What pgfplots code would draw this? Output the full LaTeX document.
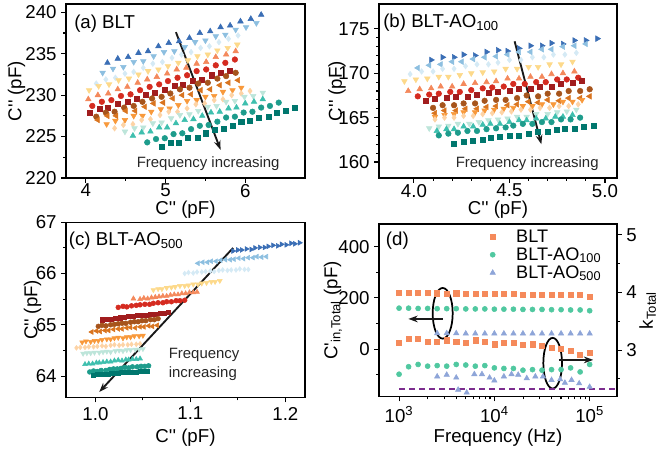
\documentclass[border=0pt]{standalone}
\usepackage{fontspec}
\setmainfont{Liberation Sans}
\usepackage{pgfplots}
\pgfplotsset{compat=1.18}
\usetikzlibrary{arrows.meta}
\definecolor{cBlue}{HTML}{3A6EB5}
\definecolor{cLBlue}{HTML}{8DBFE0}
\definecolor{cPBlue}{HTML}{D5EAF5}
\definecolor{cYellow}{HTML}{FDD98A}
\definecolor{cSalmon}{HTML}{F4895C}
\definecolor{cRed}{HTML}{D52B20}
\definecolor{cDRed}{HTML}{A11D1E}
\definecolor{cBrown}{HTML}{A6541C}
\definecolor{cOBrown}{HTML}{D9741F}
\definecolor{cOrange}{HTML}{F8993B}
\definecolor{cPeach}{HTML}{FDD3A5}
\definecolor{cPTeal}{HTML}{BDE5DA}
\definecolor{cTeal}{HTML}{3EBFAE}
\definecolor{cMTeal}{HTML}{1D9C8C}
\definecolor{cDTeal}{HTML}{00776E}
\definecolor{dOr}{HTML}{F58A5B}
\definecolor{dGr}{HTML}{50C8A0}
\definecolor{dBl}{HTML}{8EA5D8}
\definecolor{dPu}{HTML}{7B2D8E}
\newcommand{\fs}{\fontsize{14}{16.5}\selectfont}
\newcommand{\fsm}{\fontsize{11.2}{13}\selectfont}
\pgfplotsset{
  every axis/.append style={scale only axis, font=\fs, tick align=outside,
    xtick pos=bottom, ytick pos=left, axis line style={line width=1.1pt},
    major tick length=3.5pt, minor tick length=2pt,
    every tick/.style={black, line width=0.8pt},
    /pgf/number format/assume math mode=true,
    every axis plot/.append style={mark size=2.1pt}},
  rU/.style={only marks, mark=triangle*, mark options={scale=1.15}},
  rD/.style={only marks, mark=triangle*, mark options={rotate=180, scale=1.15}},
  rL/.style={only marks, mark=triangle*, mark options={rotate=90, scale=1.15}},
  rR/.style={only marks, mark=triangle*, mark options={rotate=-90, scale=1.15}},
  rO/.style={only marks, mark=*},
  rS/.style={only marks, mark=square*, mark options={scale=0.9}},
  rM/.style={only marks, mark=diamond*},
  ylab/.style={every axis y label/.style={at={([xshift=-#1]rel axis cs:0,0.5)}, rotate=90, anchor=center}},
  xlab/.style={every axis x label/.style={at={([yshift=-#1]rel axis cs:0.5,0)}, anchor=center}},
}
\tikzset{farrow/.style={line width=1.4pt, color=black!90, -{Stealth[length=7pt,width=5pt]}}}
\begin{document}
\begin{tikzpicture}
\useasboundingbox (0,0) rectangle (492.75pt,-340.5pt);
% ---------------- (a)
\begin{axis}[at={(49.5pt,-3pt)}, anchor=north west, width=179.25pt, height=130.5pt,
  xmin=3.75, xmax=6.75, ymin=220, ymax=241,
  xtick={4,5,6}, ytick={220,225,230,235,240}, minor tick num=1,
  xticklabel style={yshift=2.5pt},
  ylab=37pt, xlab=23.5pt,
  xlabel={C\textquotesingle\textquotesingle{} (pF)}, ylabel={C\textquotesingle\textquotesingle{} (pF)}]
\addplot[rU, cBlue] coordinates {(4.27,233.9)(4.40,234.4)(4.53,234.6)(4.66,235.1)(4.78,235.3)(4.91,235.9)(5.04,236.3)(5.17,236.5)(5.30,236.9)(5.43,237.5)(5.56,237.7)(5.69,238.2)(5.81,238.4)(5.94,238.9)(6.07,239.2)(6.20,239.7)};
\addplot[rD, cLBlue] coordinates {(4.21,232.7)(4.34,233.2)(4.47,233.4)(4.60,234.0)(4.72,234.1)(4.85,234.7)(4.98,235.2)(5.11,235.3)(5.24,235.8)(5.37,236.4)(5.50,236.6)(5.63,237.1)(5.75,237.3)(5.88,237.9)(6.01,238.2)(6.14,238.7)};
\addplot[rM, cPBlue] coordinates {(4.13,231.4)(4.25,231.9)(4.37,232.1)(4.49,232.6)(4.60,232.8)(4.72,233.3)(4.84,233.8)(4.96,234.0)(5.08,234.5)(5.20,234.9)(5.32,235.2)(5.44,235.7)(5.55,235.9)(5.67,236.4)(5.79,236.8)(5.91,237.2)};
\addplot[rD, cYellow] coordinates {(4.04,230.6)(4.16,231.1)(4.29,231.3)(4.41,231.8)(4.54,232.0)(4.66,232.5)(4.78,232.9)(4.91,233.1)(5.03,233.5)(5.16,233.9)(5.28,234.2)(5.40,234.7)(5.53,234.9)(5.65,235.4)(5.78,235.7)(5.90,236.1)};
\addplot[rU, cSalmon] coordinates {(4.03,229.5)(4.15,230.0)(4.28,230.2)(4.40,230.7)(4.52,231.0)(4.65,231.5)(4.77,231.9)(4.89,232.2)(5.02,232.6)(5.14,233.1)(5.26,233.3)(5.39,233.8)(5.51,234.0)(5.63,234.6)(5.76,234.9)(5.88,235.3)};
\addplot[rO, cRed] coordinates {(4.08,228.7)(4.20,229.2)(4.32,229.4)(4.44,229.9)(4.56,230.1)(4.68,230.6)(4.80,231.0)(4.92,231.3)(5.03,231.7)(5.15,232.1)(5.27,232.4)(5.39,232.9)(5.51,233.1)(5.63,233.6)(5.75,233.9)(5.87,234.3)};
\addplot[rS, cDRed] coordinates {(4.05,227.9)(4.17,228.4)(4.28,228.5)(4.40,229.0)(4.52,229.2)(4.64,229.6)(4.75,230.0)(4.87,230.3)(4.99,230.6)(5.11,231.1)(5.22,231.3)(5.34,231.7)(5.46,231.9)(5.58,232.4)(5.69,232.7)(5.81,233.0)};
\addplot[rO, cBrown] coordinates {(4.13,227.4)(4.25,227.9)(4.36,228.0)(4.48,228.5)(4.60,228.7)(4.71,229.2)(4.83,229.6)(4.95,229.8)(5.06,230.2)(5.18,230.7)(5.30,230.9)(5.41,231.4)(5.53,231.5)(5.65,232.0)(5.76,232.3)(5.88,232.7)};
\addplot[rL, cOBrown] coordinates {(4.15,227.0)(4.27,227.5)(4.38,227.5)(4.50,228.1)(4.62,228.1)(4.74,228.6)(4.85,229.0)(4.97,229.1)(5.09,229.6)(5.21,230.0)(5.32,230.1)(5.44,230.6)(5.56,230.7)(5.68,231.2)(5.79,231.5)(5.91,231.8)};
\addplot[rD, cOrange] coordinates {(4.26,226.5)(4.37,226.9)(4.49,227.0)(4.60,227.5)(4.71,227.5)(4.82,228.0)(4.94,228.3)(5.05,228.4)(5.16,228.8)(5.27,229.3)(5.39,229.4)(5.50,229.8)(5.61,229.9)(5.72,230.4)(5.84,230.6)(5.95,230.9)};
\addplot[rM, cPeach] coordinates {(4.36,226.0)(4.47,226.4)(4.59,226.5)(4.70,227.0)(4.81,227.1)(4.93,227.6)(5.04,228.0)(5.15,228.0)(5.27,228.4)(5.38,228.9)(5.49,229.0)(5.61,229.4)(5.72,229.5)(5.83,230.0)(5.95,230.2)(6.06,230.5)};
\addplot[rD, cPTeal] coordinates {(4.49,225.6)(4.61,226.0)(4.72,226.1)(4.84,226.6)(4.95,226.7)(5.07,227.2)(5.18,227.6)(5.30,227.7)(5.41,228.1)(5.53,228.6)(5.64,228.7)(5.76,229.2)(5.87,229.3)(5.99,229.8)(6.10,229.9)(6.22,230.3)};
\addplot[rU, cTeal] coordinates {(4.59,225.1)(4.70,225.5)(4.81,225.6)(4.92,226.1)(5.02,226.1)(5.13,226.6)(5.24,227.0)(5.35,227.1)(5.46,227.5)(5.57,227.9)(5.68,228.0)(5.79,228.4)(5.89,228.5)(6.00,229.0)(6.11,229.2)(6.22,229.5)};
\addplot[rO, cMTeal] coordinates {(4.77,224.3)(4.88,224.7)(4.99,224.8)(5.10,225.3)(5.21,225.4)(5.32,225.9)(5.43,226.3)(5.54,226.4)(5.65,226.8)(5.76,227.3)(5.87,227.4)(5.98,227.9)(6.09,228.0)(6.20,228.5)(6.31,228.7)(6.42,229.1)};
\addplot[rS, cDTeal] coordinates {(4.95,223.8)(5.06,224.2)(5.17,224.3)(5.28,224.8)(5.40,224.9)(5.51,225.4)(5.62,225.8)(5.73,225.9)(5.84,226.3)(5.95,226.8)(6.06,226.9)(6.17,227.3)(6.29,227.4)(6.40,227.9)(6.51,228.1)(6.62,228.5)};
\draw[farrow] (axis cs:5.13,237.6) -- (axis cs:5.69,223.4);
\node[font=\fsm, text=black!85] at (axis cs:5.535,221.7) {Frequency increasing};
\node[anchor=north west, inner sep=0pt] at ([xshift=6pt,yshift=-8pt]rel axis cs:0,1) {(a) BLT};
\end{axis}
% ---------------- (b)
\begin{axis}[at={(284.25pt,-3pt)}, anchor=north west, width=178.5pt, height=130.5pt,
  xmin=3.817, xmax=5.063, ymin=158.2, ymax=177.8,
  xtick={4,4.5,5}, ytick={160,165,170,175}, minor x tick num=4, minor y tick num=4,
  xticklabel style={yshift=2.5pt, /pgf/number format/.cd, fixed, fixed zerofill, precision=1},
  ylab=31.5pt, xlab=23.5pt,
  xlabel={C\textquotesingle\textquotesingle{} (pF)}, ylabel={C\textquotesingle\textquotesingle{} (pF)}]
\addplot[rR, cBlue] coordinates {(4.09,171.5)(4.15,171.8)(4.21,171.8)(4.26,172.1)(4.32,172.0)(4.38,172.4)(4.44,172.6)(4.49,172.5)(4.55,172.8)(4.61,173.1)(4.67,173.1)(4.72,173.4)(4.78,173.3)(4.84,173.7)(4.90,173.7)(4.96,173.9)};
\addplot[rL, cLBlue] coordinates {(4.02,170.6)(4.08,170.9)(4.14,171.0)(4.20,171.3)(4.25,171.3)(4.31,171.6)(4.37,171.8)(4.43,171.9)(4.49,172.1)(4.55,172.4)(4.61,172.4)(4.67,172.7)(4.72,172.7)(4.78,173.0)(4.84,173.1)(4.90,173.3)};
\addplot[rM, cPBlue] coordinates {(3.98,169.9)(4.04,170.2)(4.10,170.2)(4.15,170.5)(4.21,170.5)(4.27,170.8)(4.33,171.0)(4.39,171.0)(4.44,171.2)(4.50,171.5)(4.56,171.5)(4.62,171.8)(4.68,171.8)(4.73,172.1)(4.79,172.1)(4.85,172.3)};
\addplot[rD, cYellow] coordinates {(3.95,169.1)(4.01,169.3)(4.07,169.4)(4.13,169.6)(4.18,169.6)(4.24,169.8)(4.30,170.0)(4.36,170.1)(4.42,170.2)(4.48,170.5)(4.54,170.5)(4.60,170.7)(4.65,170.7)(4.71,171.0)(4.77,171.0)(4.83,171.3)};
\addplot[rU, cSalmon] coordinates {(3.97,168.0)(4.03,168.2)(4.09,168.3)(4.14,168.5)(4.20,168.5)(4.26,168.8)(4.32,168.9)(4.38,169.0)(4.43,169.1)(4.49,169.4)(4.55,169.4)(4.61,169.6)(4.67,169.6)(4.72,169.9)(4.78,170.0)(4.84,170.2)};
\addplot[rO, cRed] coordinates {(4.02,167.4)(4.08,167.6)(4.13,167.7)(4.19,167.9)(4.24,167.9)(4.30,168.1)(4.36,168.3)(4.41,168.4)(4.47,168.5)(4.52,168.8)(4.58,168.8)(4.64,169.0)(4.69,169.0)(4.75,169.3)(4.80,169.3)(4.86,169.5)};
\addplot[rS, cDRed] coordinates {(4.06,166.9)(4.11,167.1)(4.17,167.2)(4.22,167.4)(4.28,167.4)(4.33,167.6)(4.39,167.8)(4.44,167.9)(4.50,168.0)(4.55,168.3)(4.61,168.3)(4.66,168.5)(4.72,168.5)(4.77,168.8)(4.83,168.9)(4.88,169.2)};
\addplot[rO, cBrown] coordinates {(4.10,166.1)(4.15,166.4)(4.21,166.4)(4.26,166.6)(4.32,166.6)(4.37,166.9)(4.43,167.0)(4.48,167.0)(4.54,167.2)(4.59,167.5)(4.65,167.4)(4.70,167.7)(4.76,167.7)(4.81,168.0)(4.87,168.0)(4.92,168.2)};
\addplot[rL, cOBrown] coordinates {(4.11,165.5)(4.16,165.8)(4.22,165.8)(4.27,166.0)(4.33,166.0)(4.38,166.2)(4.43,166.3)(4.49,166.4)(4.54,166.5)(4.60,166.8)(4.65,166.7)(4.70,167.0)(4.76,166.9)(4.81,167.2)(4.87,167.2)(4.92,167.4)};
\addplot[rD, cOrange] coordinates {(4.11,165.1)(4.16,165.3)(4.21,165.4)(4.26,165.6)(4.32,165.6)(4.37,165.8)(4.42,165.9)(4.47,166.0)(4.52,166.1)(4.57,166.3)(4.62,166.3)(4.67,166.5)(4.73,166.5)(4.78,166.8)(4.83,166.8)(4.88,167.0)};
\addplot[rM, cPeach] coordinates {(4.11,164.8)(4.16,165.0)(4.21,165.0)(4.26,165.2)(4.31,165.2)(4.36,165.4)(4.41,165.5)(4.46,165.6)(4.51,165.7)(4.56,165.9)(4.61,165.9)(4.66,166.1)(4.71,166.1)(4.76,166.3)(4.81,166.3)(4.86,166.5)};
\addplot[rD, cPTeal] coordinates {(4.08,163.8)(4.13,164.0)(4.18,164.1)(4.23,164.3)(4.29,164.3)(4.34,164.5)(4.39,164.7)(4.44,164.8)(4.49,164.9)(4.54,165.1)(4.59,165.1)(4.64,165.4)(4.70,165.4)(4.75,165.6)(4.80,165.7)(4.85,165.9)};
\addplot[rU, cTeal] coordinates {(4.12,163.5)(4.17,163.7)(4.21,163.7)(4.26,164.0)(4.31,164.0)(4.36,164.2)(4.40,164.3)(4.45,164.3)(4.50,164.5)(4.55,164.7)(4.59,164.7)(4.64,164.9)(4.69,164.9)(4.74,165.1)(4.78,165.1)(4.83,165.3)};
\addplot[rO, cMTeal] coordinates {(4.13,163.0)(4.18,163.2)(4.23,163.3)(4.28,163.5)(4.33,163.5)(4.38,163.7)(4.43,163.8)(4.48,163.9)(4.52,164.1)(4.57,164.3)(4.62,164.3)(4.67,164.5)(4.72,164.5)(4.77,164.8)(4.82,164.8)(4.87,165.0)};
\addplot[rS, cDTeal] coordinates {(4.21,162.1)(4.26,162.3)(4.31,162.4)(4.36,162.5)(4.40,162.7)(4.45,162.8)(4.50,163.0)(4.55,163.0)(4.60,163.2)(4.65,163.4)(4.70,163.4)(4.75,163.6)(4.79,163.7)(4.84,163.8)(4.89,164.0)(4.94,164.1)};
\draw[farrow] (axis cs:4.527,173.6) -- (axis cs:4.667,162.0);
\node[font=\fsm, text=black!85] at (axis cs:4.593,159.86) {Frequency increasing};
\node[anchor=north west, inner sep=0pt] at ([xshift=3pt,yshift=-7pt]rel axis cs:0,1) {(b) BLT-AO\textsubscript{100}};
\end{axis}
% ---------------- (c)
\begin{axis}[at={(49.5pt,-166.7pt)}, anchor=north west, width=179.25pt, height=131.5pt,
  xmin=0.969, xmax=1.2207, ymin=63.58, ymax=67,
  xtick={1.0,1.1,1.2}, minor xtick={1.05,1.15}, ytick={64,65,66,67}, minor ytick={64.5,65.5,66.5},
  xticklabel style={/pgf/number format/.cd, fixed, fixed zerofill, precision=1},
  every axis plot/.append style={mark size=1.8pt},
  ylab=25pt, xlab=30pt,
  xlabel={C\textquotesingle\textquotesingle{} (pF)}, ylabel={C\textquotesingle\textquotesingle{} (pF)}]
\addplot[rR, cBlue] coordinates {(1.145,66.44)(1.150,66.46)(1.154,66.46)(1.159,66.48)(1.164,66.47)(1.168,66.50)(1.173,66.51)(1.178,66.51)(1.182,66.53)(1.187,66.55)(1.192,66.54)(1.196,66.57)(1.201,66.56)(1.206,66.59)(1.210,66.58)(1.215,66.60)};
\addplot[rL, cLBlue] coordinates {(1.108,66.20)(1.113,66.22)(1.118,66.22)(1.122,66.24)(1.127,66.24)(1.132,66.26)(1.137,66.27)(1.142,66.27)(1.146,66.28)(1.151,66.30)(1.156,66.29)(1.161,66.31)(1.166,66.31)(1.170,66.33)(1.175,66.32)(1.180,66.33)};
\addplot[rM, cPBlue] coordinates {(1.094,66.00)(1.098,66.02)(1.103,66.01)(1.107,66.03)(1.112,66.03)(1.116,66.04)(1.121,66.05)(1.125,66.04)(1.130,66.06)(1.134,66.07)(1.139,66.06)(1.143,66.07)(1.148,66.07)(1.152,66.09)(1.157,66.08)(1.161,66.08)};
\addplot[rD, cYellow] coordinates {(1.061,65.68)(1.066,65.70)(1.070,65.70)(1.075,65.72)(1.080,65.73)(1.084,65.74)(1.089,65.76)(1.094,65.76)(1.098,65.77)(1.103,65.79)(1.108,65.79)(1.112,65.81)(1.117,65.82)(1.122,65.84)(1.126,65.84)(1.131,65.86)};
\addplot[rU, cSalmon] coordinates {(1.040,65.51)(1.047,65.50)(1.051,65.52)(1.055,65.51)(1.059,65.53)(1.063,65.54)(1.067,65.55)(1.071,65.56)(1.075,65.56)(1.079,65.58)(1.083,65.59)(1.087,65.59)(1.091,65.61)(1.095,65.61)(1.099,65.63)(1.103,65.63)(1.107,65.64)};
\addplot[rO, cRed] coordinates {(1.024,65.34)(1.029,65.36)(1.033,65.35)(1.038,65.37)(1.043,65.38)(1.047,65.39)(1.052,65.40)(1.057,65.40)(1.061,65.42)(1.066,65.43)(1.071,65.43)(1.075,65.45)(1.080,65.45)(1.085,65.47)(1.089,65.47)(1.094,65.48)};
\addplot[rS, cDRed] coordinates {(1.007,65.10)(1.012,65.11)(1.016,65.11)(1.021,65.13)(1.026,65.14)(1.030,65.15)(1.035,65.16)(1.040,65.16)(1.044,65.18)(1.049,65.19)(1.054,65.19)(1.058,65.21)(1.063,65.21)(1.068,65.23)(1.072,65.23)(1.077,65.24)};
\addplot[rO, cBrown] coordinates {(1.003,64.97)(1.007,64.99)(1.011,64.98)(1.016,65.00)(1.020,65.01)(1.024,65.02)(1.028,65.03)(1.032,65.03)(1.037,65.05)(1.041,65.06)(1.045,65.06)(1.049,65.08)(1.053,65.08)(1.058,65.10)(1.062,65.10)(1.066,65.12)};
\addplot[rL, cOBrown] coordinates {(0.996,64.86)(1.001,64.88)(1.005,64.87)(1.010,64.89)(1.014,64.89)(1.019,64.91)(1.024,64.92)(1.028,64.92)(1.033,64.94)(1.037,64.95)(1.042,64.94)(1.047,64.96)(1.051,64.96)(1.056,64.98)(1.060,64.97)(1.065,64.99)};
\addplot[rD, cOrange] coordinates {(0.986,64.66)(0.990,64.68)(0.995,64.67)(0.999,64.69)(1.003,64.69)(1.007,64.71)(1.012,64.72)(1.016,64.72)(1.020,64.74)(1.024,64.75)(1.029,64.74)(1.033,64.76)(1.037,64.76)(1.041,64.78)(1.046,64.78)(1.050,64.79)};
\addplot[rM, cPeach] coordinates {(0.980,64.55)(0.984,64.56)(0.989,64.56)(0.993,64.57)(0.998,64.57)(1.002,64.58)(1.007,64.59)(1.011,64.58)(1.016,64.60)(1.020,64.61)(1.025,64.60)(1.029,64.61)(1.034,64.61)(1.038,64.62)(1.043,64.62)(1.047,64.63)};
\addplot[rD, cPTeal] coordinates {(0.987,64.44)(0.991,64.45)(0.995,64.45)(0.999,64.46)(1.004,64.46)(1.008,64.47)(1.012,64.48)(1.016,64.47)(1.021,64.49)(1.025,64.50)(1.029,64.49)(1.033,64.51)(1.037,64.51)(1.042,64.52)(1.046,64.52)(1.050,64.53)};
\addplot[rU, cTeal] coordinates {(0.989,64.23)(0.993,64.24)(0.997,64.24)(1.001,64.26)(1.004,64.26)(1.008,64.27)(1.012,64.28)(1.016,64.28)(1.020,64.30)(1.024,64.31)(1.028,64.30)(1.032,64.32)(1.035,64.32)(1.039,64.33)(1.043,64.33)(1.047,64.34)};
\addplot[rO, cMTeal] coordinates {(0.994,64.08)(0.998,64.10)(1.002,64.09)(1.006,64.11)(1.011,64.11)(1.015,64.13)(1.019,64.14)(1.023,64.14)(1.027,64.15)(1.031,64.17)(1.035,64.16)(1.039,64.18)(1.044,64.18)(1.048,64.19)(1.052,64.19)(1.056,64.20)};
\addplot[rS, cDTeal] coordinates {(0.998,64.02)(1.002,64.03)(1.005,64.03)(1.009,64.04)(1.013,64.04)(1.017,64.05)(1.020,64.06)(1.024,64.05)(1.028,64.07)(1.032,64.08)(1.035,64.07)(1.039,64.08)(1.043,64.08)(1.047,64.09)(1.050,64.09)(1.054,64.10)};
\draw[farrow] (axis cs:1.145,66.50) -- (axis cs:1.004,63.69);
\node[font=\fontsize{11.2}{14.3}\selectfont, text=black!85, align=left, anchor=west] at (axis cs:1.0723,64.22) {Frequency\\increasing};
\node[anchor=north west, inner sep=0pt] at ([xshift=2pt,yshift=-7pt]rel axis cs:0,1) {(c) BLT-AO\textsubscript{500}};
\end{axis}
% ---------------- (d) left
\begin{axis}[at={(284.25pt,-168pt)}, anchor=north west, width=178.5pt, height=129.5pt,
  xmode=log, xmin=616, xmax=193600, ymin=-185, ymax=488,
  xtick={1000,10000,100000}, xticklabels={10\textsuperscript{3},10\textsuperscript{4},10\textsuperscript{5}},
  ytick={0,200,400}, minor ytick={-100,100,300},
  xlab=31pt,
  every axis y label/.style={at={([xshift=-34.5pt]rel axis cs:0,0.5)}, rotate=90, anchor=center},
  xlabel={Frequency (Hz)}, ylabel={C\textquotesingle\textsubscript{in,Total} (pF)},
  legend image code/.code={\draw[mark repeat=2,mark phase=2,#1] plot coordinates {(0cm,0cm)(0.3cm,0cm)(0.6cm,0cm)}; \path[draw=none, fill=none] (0cm,0cm) (0.85cm,0cm);},
  legend style={at={(0.412,1.0)}, anchor=north west, draw=none, fill=none, font=\fontsize{13.6}{15}\selectfont, row sep=-1.5pt},
  legend cell align=left]
\addplot[only marks, mark=square*, mark size=1.9pt, dOr] coordinates {(1000,220)(1259,221)(1585,220)(1995,219)(2512,218)(3162,217)(3981,218)(5012,217)(6310,216)(7943,216)(10000,215)(12589,215)(15849,215)(19953,214)(25119,214)(31623,213)(39811,213)(50119,212)(63096,212)(79433,211)(100000,205)};
\addlegendentry{BLT}
\addplot[only marks, mark=*, mark size=1.9pt, dGr] coordinates {(1000,160)(1259,160)(1585,159)(1995,159)(2512,158)(3162,158)(3981,158)(5012,157)(6310,157)(7943,157)(10000,156)(12589,156)(15849,156)(19953,155)(25119,155)(31623,155)(39811,154)(50119,154)(63096,153)(79433,153)(100000,150)};
\addlegendentry{BLT-AO\textsubscript{100}}
\addplot[only marks, mark=triangle*, mark size=2.3pt, dBl] coordinates {(2512,62)(3162,62)(3981,62)(5012,61)(6310,61)(7943,61)(10000,61)(12589,61)(15849,61)(19953,61)(25119,61)(31623,61)(39811,61)(50119,61)(63096,61)(79433,61)(100000,61)};
\addlegendentry{BLT-AO\textsubscript{500}}
\draw[line width=1.3pt] (axis cs:2870,140) ellipse [x radius=7.5pt, y radius=19pt];
\draw[farrow] (axis cs:2870,118) -- (axis cs:1253,118);
\draw[line width=1.3pt] (axis cs:40900,-54.5) ellipse [x radius=7pt, y radius=19pt];
\draw[farrow] (axis cs:47600,-41.6) -- (axis cs:109000,-41.6);
\node[anchor=north west, inner sep=0pt] at ([xshift=5pt,yshift=-6pt]rel axis cs:0,1) {(d)};
\end{axis}
% ---------------- (d) right
\begin{axis}[at={(284.25pt,-168pt)}, anchor=north west, width=178.5pt, height=129.5pt,
  xmode=log, xmin=616, xmax=193600, ymin=2.19, ymax=5.19,
  axis x line=none, axis y line*=right, ytick pos=right,
  ytick={3,4,5}, minor ytick={2.5,3.5,4.5},
  every axis y label/.style={at={([xshift=23pt]rel axis cs:1,0.5)}, rotate=90, anchor=center},
  ylabel={k\textsubscript{Total}}]
\addplot[only marks, mark=square*, mark size=1.9pt, dOr] coordinates {(1000,3.13)(1259,3.19)(1585,3.19)(1995,3.15)(2512,3.15)(3162,3.17)(3981,3.15)(5012,3.13)(6310,3.17)(7943,3.15)(10000,3.10)(12589,3.13)(15849,3.12)(19953,3.09)(25119,3.10)(31623,3.07)(39811,3.04)(50119,3.03)(63096,2.99)(79433,2.91)(100000,2.96)};
\addplot[only marks, mark=*, mark size=1.9pt, dGr] coordinates {(1000,2.58)(1259,2.71)(1585,2.75)(1995,2.72)(2512,2.73)(3162,2.72)(3981,2.75)(5012,2.74)(6310,2.72)(7943,2.73)(10000,2.69)(12589,2.68)(15849,2.68)(19953,2.65)(25119,2.66)(31623,2.65)(39811,2.66)(50119,2.66)(63096,2.69)(79433,2.62)(100000,2.75)};
\addplot[only marks, mark=triangle*, mark size=2.3pt, dBl] coordinates {(2512,2.54)(3162,2.57)(3981,2.52)(4169,2.31)(5129,2.26)(6166,2.58)(7413,2.58)(8913,2.52)(10000,2.47)(12589,2.54)(15136,2.58)(17783,2.57)(21878,2.51)(26915,2.54)(32359,2.54)(39811,2.48)(48978,2.49)(54954,2.43)(64565,2.48)(77625,2.42)(100000,2.36)};
\addplot[dPu, line width=1.1pt, dash pattern=on 4.5pt off 3pt] coordinates {(1000,2.32)(193600,2.32)};
\end{axis}
\end{tikzpicture}
\end{document}
